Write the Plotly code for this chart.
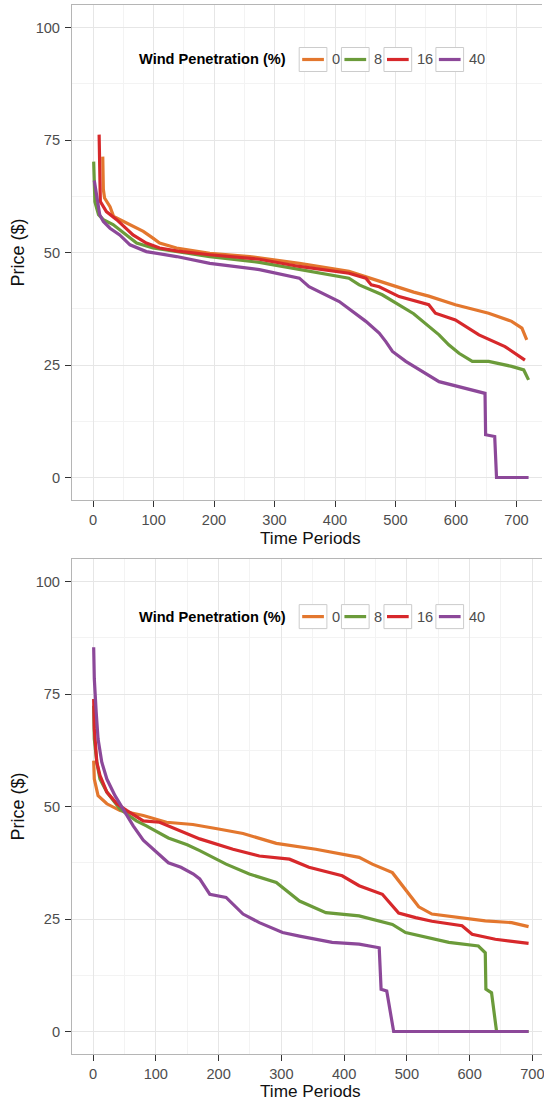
import plotly.graph_objects as go

W, H = 544, 1101
FONT = "Liberation Sans, Arial, Helvetica, sans-serif"

# Wind penetration levels (%) and their line colours
levels = ["0", "8", "16", "40"]
colors = ["#E3772E", "#6B9B3A", "#D7282B", "#8C4899"]

# ---- Upper panel: sorted price curves ----
top_x_0 = [16, 17, 19, 28, 34, 61, 83, 99, 110, 138, 193, 259, 341, 423, 467, 506, 530, 555, 599, 654, 692, 709, 717]
top_y_0 = [71.3, 64.0, 62.1, 60.2, 58.0, 56.2, 54.7, 53.2, 52.1, 51.0, 49.8, 49.1, 47.6, 45.8, 43.9, 42.1, 41.2, 40.3, 38.4, 36.5, 34.7, 33.2, 30.6]

top_x_8 = [1, 2, 3, 9, 17, 33, 55, 72, 99, 138, 193, 275, 341, 423, 440, 478, 530, 572, 588, 605, 627, 654, 692, 712, 720]
top_y_8 = [70.2, 66.1, 61.3, 58.4, 57.3, 56.2, 53.9, 52.1, 51.0, 50.2, 49.1, 47.8, 46.2, 44.3, 42.8, 40.6, 36.4, 31.7, 29.5, 27.6, 25.8, 25.8, 24.7, 23.9, 21.7]

top_x_16 = [10, 11, 12, 22, 39, 66, 88, 110, 140, 193, 275, 341, 423, 451, 460, 473, 506, 555, 566, 599, 638, 681, 714]
top_y_16 = [76.2, 66.0, 61.3, 59.1, 57.3, 53.9, 52.1, 51.0, 50.3, 49.5, 48.5, 46.9, 45.4, 44.3, 42.8, 42.4, 40.2, 38.4, 36.5, 35.0, 31.7, 29.1, 26.1]

top_x_40 = [2, 6, 11, 17, 28, 44, 61, 88, 138, 193, 275, 341, 357, 407, 451, 473, 484, 495, 517, 572, 616, 648, 649, 664, 667, 720]
top_y_40 = [66.0, 62.1, 58.4, 56.9, 55.4, 53.9, 51.7, 50.2, 49.1, 47.6, 46.2, 44.3, 42.4, 39.1, 34.7, 32.1, 30.2, 28.0, 25.8, 21.3, 19.8, 18.7, 9.5, 9.1, 0.0, 0.0]

# ---- Lower panel: sorted price curves ----
bot_x_0 = [1, 2, 8, 22, 43, 80, 117, 159, 200, 239, 292, 355, 424, 445, 477, 498, 519, 540, 588, 625, 667, 694]
bot_y_0 = [60.2, 56.1, 52.4, 50.6, 49.1, 48.0, 46.5, 46.0, 45.0, 44.0, 41.8, 40.5, 38.7, 37.2, 35.3, 31.5, 27.7, 26.1, 25.3, 24.6, 24.2, 23.3]

bot_x_8 = [1, 2, 6, 11, 22, 43, 69, 85, 120, 150, 170, 212, 249, 292, 329, 371, 424, 477, 498, 535, 567, 614, 625, 626, 635, 643, 694]
bot_y_8 = [72.4, 65.0, 59.8, 56.1, 53.2, 49.4, 46.8, 45.7, 43.0, 41.5, 40.2, 37.2, 35.0, 33.1, 29.0, 26.4, 25.7, 23.8, 22.0, 20.9, 19.8, 19.0, 17.5, 9.4, 8.6, 0.0, 0.0]

bot_x_16 = [1, 2, 6, 11, 22, 38, 54, 80, 106, 135, 170, 223, 265, 313, 344, 397, 424, 461, 487, 514, 540, 588, 604, 641, 694]
bot_y_16 = [73.9, 67.3, 59.8, 56.9, 53.2, 50.6, 49.1, 46.8, 46.5, 44.8, 42.8, 40.5, 39.0, 38.3, 36.5, 34.6, 32.4, 30.5, 26.3, 25.3, 24.5, 23.5, 21.6, 20.5, 19.6]

bot_x_40 = [1, 2, 5, 8, 14, 22, 35, 48, 64, 80, 100, 120, 140, 160, 170, 186, 212, 239, 265, 302, 329, 381, 424, 456, 459, 468, 479, 694]
bot_y_40 = [85.4, 78.4, 71.0, 65.0, 59.8, 56.1, 52.4, 49.4, 45.7, 42.5, 40.0, 37.5, 36.5, 35.0, 33.9, 30.5, 29.8, 26.1, 24.2, 22.0, 21.2, 19.8, 19.4, 18.6, 9.4, 9.0, 0.0, 0.0]

x_ticks = [0, 100, 200, 300, 400, 500, 600, 700]
y_ticks = [0, 25, 50, 75, 100]

panels = [
    dict(xs=[top_x_0, top_x_8, top_x_16, top_x_40],
         ys=[top_y_0, top_y_8, top_y_16, top_y_40],
         xref="x", yref="y", top=5, bottom=500, xrange=[-34.95, 742.2],
         legend_cy=59.5, xtitle_cy=538),
    dict(xs=[bot_x_0, bot_x_8, bot_x_16, bot_x_40],
         ys=[bot_y_0, bot_y_8, bot_y_16, bot_y_40],
         xref="x2", yref="y2", top=559, bottom=1054, xrange=[-33.65, 715.4],
         legend_cy=616.6, xtitle_cy=1091),
]

fig = go.Figure()

for p in panels:
    for lvl, col, xs, ys in zip(levels, colors, p["xs"], p["ys"]):
        fig.add_trace(go.Scatter(
            x=xs, y=ys, mode="lines", name=lvl,
            line=dict(color=col, width=3.2),
            xaxis=p["xref"], yaxis=p["yref"], showlegend=False,
            hoverinfo="skip",
        ))

left_px = 72.2
axis_common = dict(
    ticks="outside", ticklen=6, tickwidth=1.2, tickcolor="#333333",
    showline=True, linecolor="#b5b5b5", linewidth=1,
    showgrid=True, gridcolor="#e6e6e6", gridwidth=1,
    zeroline=False, tickfont=dict(family=FONT, size=14.6, color="#4d4d4d"),
    ticklabeloverflow="allow", fixedrange=True,
)

shapes, annotations = [], []
layout_axes = {}
for i, p in enumerate(panels):
    suffix = "" if i == 0 else str(i + 1)
    ydom = [1 - p["bottom"] / H, 1 - p["top"] / H]
    layout_axes["xaxis" + suffix] = dict(
        axis_common,
        domain=[left_px / W, 1.0], anchor="y" + suffix,
        range=p["xrange"], tickmode="array", tickvals=x_ticks,
        mirror=True, ticklabelstandoff=0,
        minor=dict(dtick=50, tick0=0, showgrid=True, gridcolor="#f3f3f3", gridwidth=1),
    )
    layout_axes["yaxis" + suffix] = dict(
        axis_common,
        domain=ydom, anchor="x" + suffix,
        range=[-5, 105], tickmode="array", tickvals=y_ticks,
        ticklabelstandoff=2,
        minor=dict(dtick=12.5, tick0=0, showgrid=True, gridcolor="#f3f3f3", gridwidth=1),
        title=dict(text="Price ($)", font=dict(family=FONT, size=18, color="#111111"), standoff=6),
    )
    # x-axis title, centred under the full panel width
    annotations.append(dict(
        xref="paper", yref="paper", x=312 / W, y=1 - p["xtitle_cy"] / H,
        xanchor="center", yanchor="middle", showarrow=False,
        text="Time Periods",
        font=dict(family=FONT, size=17.2, color="#111111"),
    ))

# Legend inside each panel: bold title, boxed keys, value labels
key_left = [300.3, 342.7, 385.4, 437.5]
key_w, key_h = 27.8, 24.0
for p in panels:
    cy = p["legend_cy"]
    annotations.append(dict(
        xref="paper", yref="paper", x=289 / W, y=1 - cy / H,
        xanchor="right", yanchor="middle", showarrow=False,
        text="<b>Wind Penetration (%)</b>",
        font=dict(family=FONT, size=14.6, color="#000000"),
    ))
    for lvl, col, kx in zip(levels, colors, key_left):
        shapes.append(dict(
            type="rect", xref="paper", yref="paper",
            x0=kx / W, x1=(kx + key_w) / W,
            y0=1 - (cy + key_h / 2) / H, y1=1 - (cy - key_h / 2) / H,
            line=dict(color="#cccccc", width=1), fillcolor="white",
        ))
        shapes.append(dict(
            type="line", xref="paper", yref="paper",
            x0=(kx + 3) / W, x1=(kx + key_w - 3) / W,
            y0=1 - cy / H, y1=1 - cy / H,
            line=dict(color=col, width=3.2),
        ))
        annotations.append(dict(
            xref="paper", yref="paper", x=(kx + key_w + 3) / W, y=1 - cy / H,
            xanchor="left", yanchor="middle", showarrow=False, text=lvl,
            font=dict(family=FONT, size=14.6, color="#4d4d4d"),
        ))

fig.update_layout(
    width=W, height=H,
    margin=dict(l=0, r=0, t=0, b=0),
    paper_bgcolor="white", plot_bgcolor="white",
    font=dict(family=FONT),
    showlegend=False,
    shapes=shapes, annotations=annotations,
    **layout_axes,
)

fig.write_html("out.html", config=dict(displayModeBar=False))
